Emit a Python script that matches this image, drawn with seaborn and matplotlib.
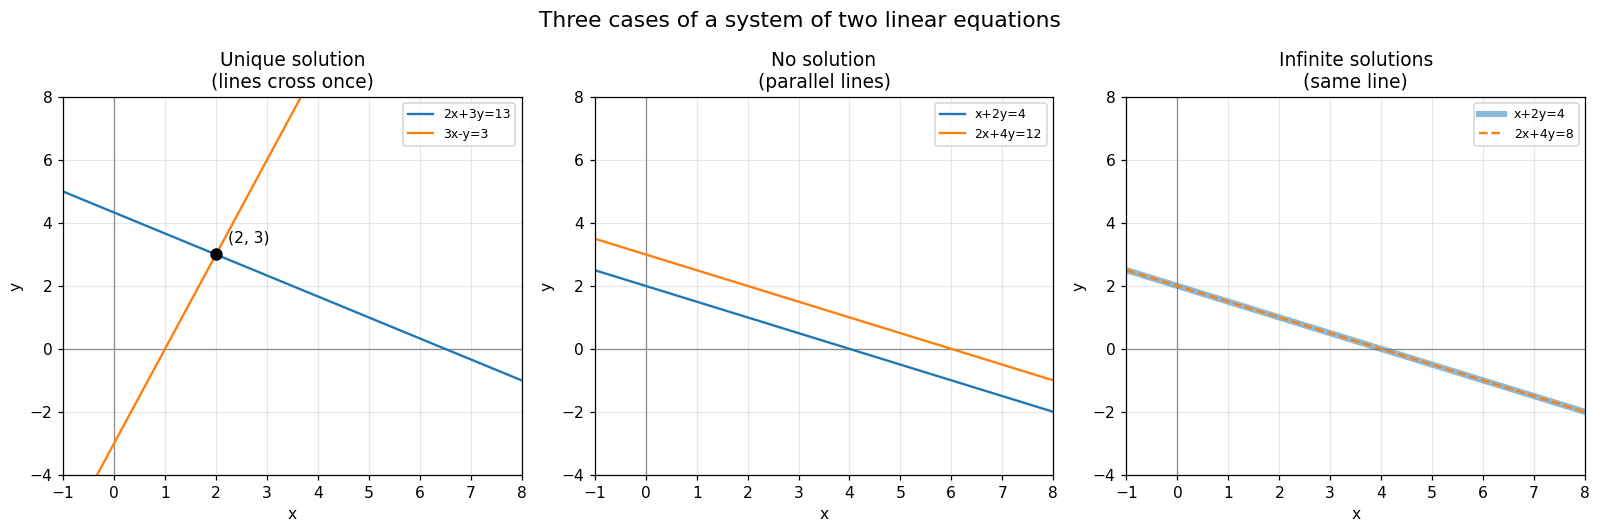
import matplotlib
matplotlib.use("Agg")
import matplotlib.pyplot as plt
import seaborn as sns

# line end points, x from -1 to 8
x_ends = [-1, 8]

# case 1: unique solution
unique_a_label = "2x+3y=13"
unique_a_y = [5, -1]
unique_b_label = "3x-y=3"
unique_b_y = [-6, 21]
crossing = (2, 3)

# case 2: no solution
none_a_label = "x+2y=4"
none_a_y = [2.5, -2]
none_b_label = "2x+4y=12"
none_b_y = [3.5, -1]

# case 3: infinite solutions
inf_a_label = "x+2y=4"
inf_a_y = [2.5, -2]
inf_b_label = "2x+4y=8"
inf_b_y = [2.5, -2]

titles = ["Unique solution\n(lines cross once)",
          "No solution\n(parallel lines)",
          "Infinite solutions\n(same line)"]

blue = "#1f77b4"
orange = "#ff7f0e"

dpi = 112
fig, axes = plt.subplots(1, 3, figsize=(1600 / dpi, 531 / dpi), dpi=dpi)

sns.lineplot(x=x_ends, y=unique_a_y, ax=axes[0], color=blue, label=unique_a_label, lw=1.5)
sns.lineplot(x=x_ends, y=unique_b_y, ax=axes[0], color=orange, label=unique_b_label, lw=1.5)
axes[0].plot(*crossing, "o", color="black", ms=7, zorder=5)
axes[0].annotate("(2, 3)", crossing, xytext=(8, 8), textcoords="offset points", fontsize=10)

sns.lineplot(x=x_ends, y=none_a_y, ax=axes[1], color=blue, label=none_a_label, lw=1.5)
sns.lineplot(x=x_ends, y=none_b_y, ax=axes[1], color=orange, label=none_b_label, lw=1.5)

sns.lineplot(x=x_ends, y=inf_a_y, ax=axes[2], color=blue, label=inf_a_label, lw=4, alpha=0.5)
sns.lineplot(x=x_ends, y=inf_b_y, ax=axes[2], color=orange, label=inf_b_label, lw=1.5,
             linestyle="--")

for ax, title in zip(axes, titles):
    ax.axhline(0, color="gray", lw=0.8, zorder=0.5)
    ax.axvline(0, color="gray", lw=0.8, zorder=0.5)
    ax.set_xlim(-1, 8)
    ax.set_ylim(-4, 8)
    ax.set_xticks(range(-1, 9))
    ax.set_xlabel("x")
    ax.set_ylabel("y")
    ax.set_title(title)
    ax.grid(True, alpha=0.3)
    ax.legend(loc="upper right", fontsize=8)

fig.suptitle("Three cases of a system of two linear equations", fontsize=14)
fig.subplots_adjust(left=0.0395, right=0.9905, bottom=0.106, top=0.817, wspace=0.16)
fig.savefig("out.png")
